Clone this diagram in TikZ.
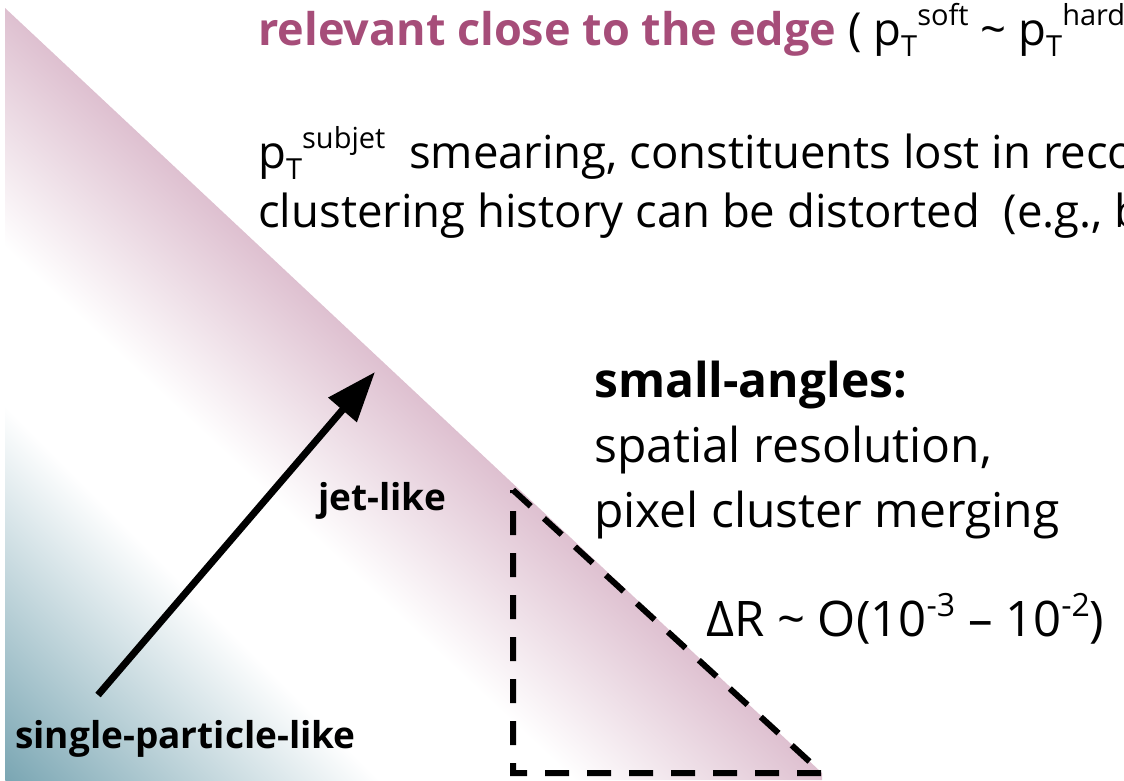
\documentclass[tikz,border=0pt]{standalone}
\usepackage{fontspec}
\setmainfont{Open Sans}
\usetikzlibrary{arrows.meta}
\definecolor{edgetext}{RGB}{166,77,121}
\definecolor{bandfill}{RGB}{222,192,208}
\definecolor{cornerfill}{RGB}{122,166,179}
\definecolor{cornermid}{RGB}{200,221,233}
\newcommand{\idxlo}[1]{\raisebox{-0.26em}{\fontsize{29}{30}\selectfont #1}}
\newcommand{\idxhi}[1]{\raisebox{0.42em}{\fontsize{29}{30}\selectfont #1}}
\newcommand{\powhi}[1]{\raisebox{0.40em}{\fontsize{32}{34}\selectfont #1}}

\begin{document}
\begin{tikzpicture}[x=1pt, y=-1pt,
    big/.style={anchor=base west, inner sep=0pt, font=\fontsize{45.5}{56}\selectfont},
    bigbold/.style={big, font=\fontsize{48}{58}\selectfont\bfseries},
    side/.style={big, font=\fontsize{48}{58}\selectfont},
    lab/.style={anchor=base west, inner sep=0pt, font=\fontsize{37}{44}\selectfont\bfseries},
    arr/.style={-{Triangle[length=50pt, width=36pt]}, line width=7pt},
    edgebox/.style={dash pattern=on 24pt off 18pt, line width=6pt}
  ]
  \useasboundingbox (0,0) rectangle (1124,780);
  \clip (0,0) rectangle (1124,780);
  \fill[white] (0,0) rectangle (1124,780);

  % band below the edge
  \begin{scope}
    \clip (5,8) -- (822,773) -- (822,780) -- (5,780) -- cycle;
    \shade[transform canvas={shift={(5,8)}, rotate=-43.1},
           top color=bandfill, bottom color=white] (-50,0) rectangle (1250,175);
  \end{scope}
  % corner glow
  \begin{scope}
    \clip (5,0) rectangle (1124,780);
    \shade[transform canvas={shift={(5,780)}, rotate=45},
           left color=cornerfill, middle color=cornermid, right color=white]
      (0,-500) rectangle (265,500);
  \end{scope}

  \node[big] (title) at (258,45)
    {{\color{edgetext}\fontsize{45}{56}\selectfont\bfseries relevant close to the edge} ( p\idxlo{T}\idxhi{soft} \textasciitilde{} p\idxlo{T}\idxhi{hard}};
  \node[big] (smear) at (258,168)
    {p\idxlo{T}\idxhi{subjet}\ \ smearing, constituents lost in reco};
  \node[big] (history) at (258,227)
    {clustering history can be distorted\ \ (e.g., b};

  \node[bigbold] (small) at (594,397) {small-angles:};
  \node[side] (spatial) at (594,462) {spatial resolution,};
  \node[side] (merging) at (594,527) {pixel cluster merging};
  \node[side, font=\fontsize{49}{58}\selectfont] (deltaR) at (706,636)
    {ΔR \textasciitilde{} O(10\powhi{-3} – 10\powhi{-2})};

  \node[lab] (jetlike) at (318,510) {jet-like};
  \node[lab] (single) at (15,748) {single-particle-like};

  \coordinate (apex) at (513,490);
  \coordinate (tail) at (822,773);
  \coordinate (foot) at (513,773);
  \draw[edgebox] (apex) -- (tail) -- (foot) -- cycle;

  \coordinate (spstart) at (98,695);
  \coordinate (jettip) at (375,372);
  \draw[arr] (spstart) -- (jettip);
\end{tikzpicture}
\end{document}
